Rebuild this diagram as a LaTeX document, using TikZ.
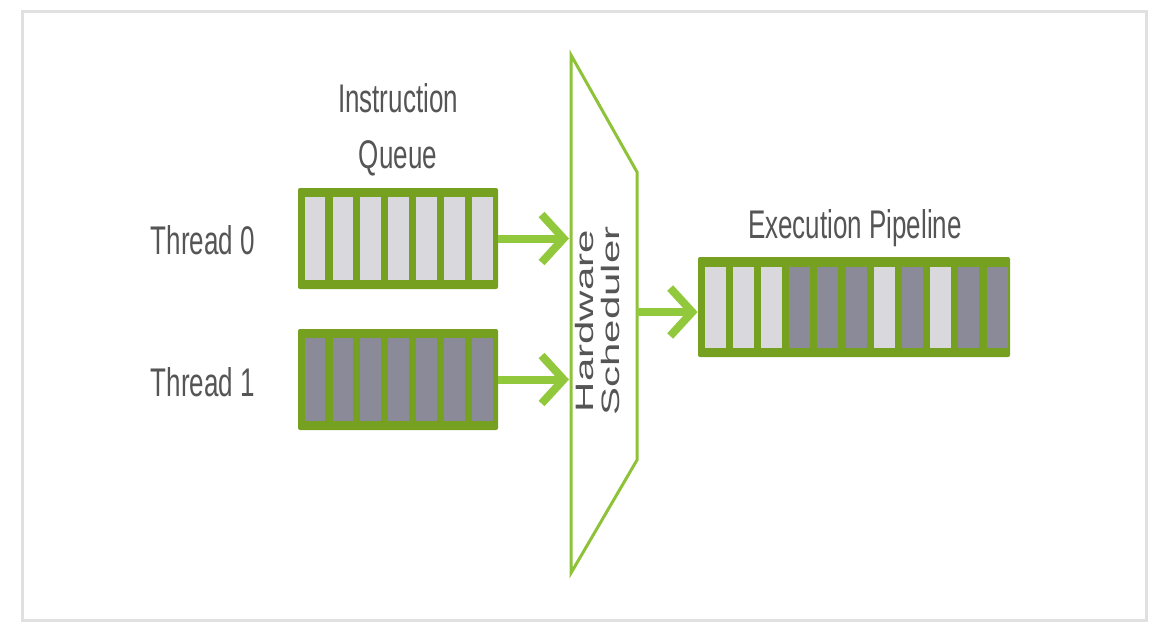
\documentclass[tikz,border=0pt]{standalone}
\usepackage{fontspec}
\setmainfont{Liberation Sans}
\usetikzlibrary{arrows.meta,positioning,calc}

\definecolor{olive}{HTML}{76A020}
\definecolor{lime}{HTML}{92C83C}
\definecolor{lc}{HTML}{D9D9DD}
\definecolor{dc}{HTML}{8A8A98}
\definecolor{txt}{HTML}{555555}
\definecolor{frame}{HTML}{E0E0E0}

\newcommand{\squish}[1]{\scalebox{0.65}[1]{#1}}

\tikzset{
  queue/.style={draw=none, fill=olive, rounded corners=1pt, minimum width=100pt, minimum height=50.5pt, inner sep=0pt},
  pipebox/.style={queue, minimum width=156pt, minimum height=50pt},
  flow/.style={lime, line width=4pt, -{Straight Barb[length=11pt,width=24pt]}},
  lbl/.style={txt, font=\fontsize{20}{28}\selectfont, align=center, inner sep=0pt}
}

\begin{document}
\begin{tikzpicture}[x=0.5pt, y=-0.5pt]

 \useasboundingbox (0,0) rectangle (1176,634);
 \draw[frame, line width=1.5pt] (22,11) rectangle (1146,620);

 % instruction queues
 \node[queue] (q0) at (398,238.5) {};
 \node[queue] (q1) at (398,379.5) {};
 \foreach \i in {0,...,6} {
  \fill[lc] ([shift={(7+\i*27.9,9)}]q0.north west) rectangle +(20.5,83);
  \fill[dc] ([shift={(7+\i*27.9,9)}]q1.north west) rectangle +(20.5,83);
 }
 \node[lbl] (iq) at (398,130) {\squish{Instruction}\\\squish{Queue}};
 \node[lbl] (t0) at (203,240) {\squish{Thread 0}};
 \node[lbl] (t1) at (203,382) {\squish{Thread 1}};

 % scheduler
 \draw[lime!85!olive, line width=1.5pt] (571,55) -- (637,172) -- (637,460) -- (571,573) -- cycle;
 \coordinate (hsleft) at (569,312);
 \coordinate (hsright) at (637,312);
 \node[lbl, rotate=90, font=\fontsize{21}{20}\selectfont] (hs) at (601,321)
   {\scalebox{1}[0.6]{\begin{tabular}{@{}c@{}}Hardware\\Scheduler\end{tabular}}};

 % execution pipeline
 \node[pipebox] (pipe) at (854,307) {};
 \foreach \c [count=\i from 0] in {lc,lc,lc,dc,dc,dc,lc,dc,lc,dc,dc}
  \fill[\c] ([shift={(7+\i*28.2,10)}]pipe.north west) rectangle +(21,81);
 \node[lbl] (ep) at (855,228) {\squish{Execution Pipeline}};

 \draw[flow] (q0.east) -- (q0.east -| hsleft);
 \draw[flow] (q1.east) -- (q1.east -| hsleft);
 \draw[flow] (hsright) -- (hsright -| pipe.west);

\end{tikzpicture}
\end{document}
